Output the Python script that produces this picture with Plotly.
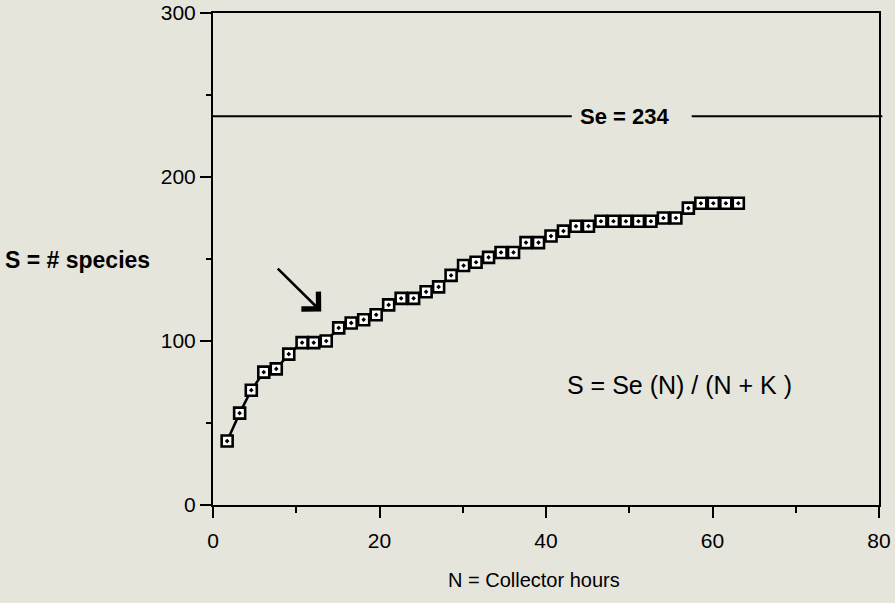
import plotly.graph_objects as go

# Data
hours = [1.7, 3.2, 4.6, 6.1, 7.6, 9.1, 10.7, 12.1, 13.6, 15.1, 16.6, 18.1,
         19.6, 21.1, 22.6, 24.1, 25.6, 27.1, 28.6, 30.1, 31.6, 33.1, 34.6,
         36.1, 37.6, 39.1, 40.6, 42.1, 43.6, 45.1, 46.6, 48.1, 49.6, 51.1,
         52.6, 54.1, 55.6, 57.1, 58.6, 60.1, 61.6, 63.1]
species = [39, 56, 70, 81, 83, 92, 99, 99, 100, 108, 111, 113, 116, 122, 126,
           126, 130, 133, 140, 146, 148, 151, 154, 154, 160, 160, 164, 167,
           170, 170, 173, 173, 173, 173, 173, 175, 175, 181, 184, 184, 184, 184]
se_value = 237
se_label = "Se = 234"
x_ticks = [0, 20, 40, 60, 80]
y_ticks = [0, 100, 200, 300]
formula = "S = Se (N) / (N + K )"
x_title = "N = Collector hours"
y_title = "S = # species"
arrow_tail = (7.6, 145)
arrow_tip = (13.0, 118)

BG = "#e6e5dc"
FONT = "Liberation Sans, Arial, sans-serif"

fig = go.Figure()
fig.add_trace(go.Scatter(
    x=hours, y=species, mode="lines+markers",
    line=dict(color="black", width=2.5),
    marker=dict(symbol="square-dot", size=11, color="white",
                line=dict(color="black", width=2.6)),
    showlegend=False, cliponaxis=False,
))

# Se asymptote line with a gap for its label
fig.add_shape(type="line", xref="x", yref="y", x0=0, x1=43.1,
              y0=se_value, y1=se_value, line=dict(color="black", width=2))
fig.add_shape(type="line", xref="paper", yref="y", x0=57.5 / 80, x1=1.005,
              y0=se_value, y1=se_value, line=dict(color="black", width=2))

fig.add_annotation(x=49.4, y=se_value, xref="x", yref="y", text="<b>" + se_label + "</b>",
                   showarrow=False, font=dict(family=FONT, size=22, color="black"),
                   xanchor="center", yanchor="middle")
fig.add_annotation(x=42.3, y=73, xref="x", yref="y", text=formula,
                   showarrow=False, font=dict(family=FONT, size=25, color="black"),
                   xanchor="left", yanchor="middle")
fig.add_annotation(x=-0.204, y=0.498, xref="paper", yref="paper", text="<b>" + y_title + "</b>",
                   showarrow=False, font=dict(family=FONT, size=23, color="black"),
                   xanchor="center", yanchor="middle")
fig.add_annotation(x=0.482, y=-0.153, xref="paper", yref="paper", text=x_title,
                   showarrow=False, font=dict(family=FONT, size=20, color="black"),
                   xanchor="center", yanchor="middle")
fig.add_annotation(x=arrow_tip[0], y=arrow_tip[1], ax=arrow_tail[0], ay=arrow_tail[1],
                   xref="x", yref="y", axref="x", ayref="y", text="",
                   showarrow=True, arrowhead=4, arrowsize=1.8, arrowwidth=2.6,
                   arrowcolor="black")

axis_common = dict(showline=True, linecolor="black", linewidth=2, mirror=True,
                   showgrid=False, zeroline=False, ticks="outside",
                   tickcolor="black", tickwidth=2, ticklen=11, automargin=False,
                   tickfont=dict(family=FONT, size=21, color="black"))
fig.update_xaxes(range=[0, 80], tickvals=x_ticks, ticklabelstandoff=5,
                 minor=dict(dtick=10, ticks="outside", ticklen=6, tickwidth=2,
                            tickcolor="black", showgrid=False),
                 **axis_common)
fig.update_yaxes(range=[0, 300], tickvals=y_ticks,
                 minor=dict(dtick=50, ticks="outside", ticklen=5, tickwidth=2,
                            tickcolor="black", showgrid=False),
                 **axis_common)

fig.update_layout(width=895, height=603, paper_bgcolor=BG, plot_bgcolor=BG,
                  margin=dict(l=213, r=16, t=13, b=98),
                  font=dict(family=FONT, color="black"))
fig.write_html("out.html", config={"displayModeBar": False})

with open("out.html", encoding="utf-8") as f:
    html = f.read()
html = html.replace("<head>", "<head><style>html,body{margin:0;padding:0;overflow:hidden;background:%s;}</style>" % BG, 1)
with open("out.html", "w", encoding="utf-8") as f:
    f.write(html)
